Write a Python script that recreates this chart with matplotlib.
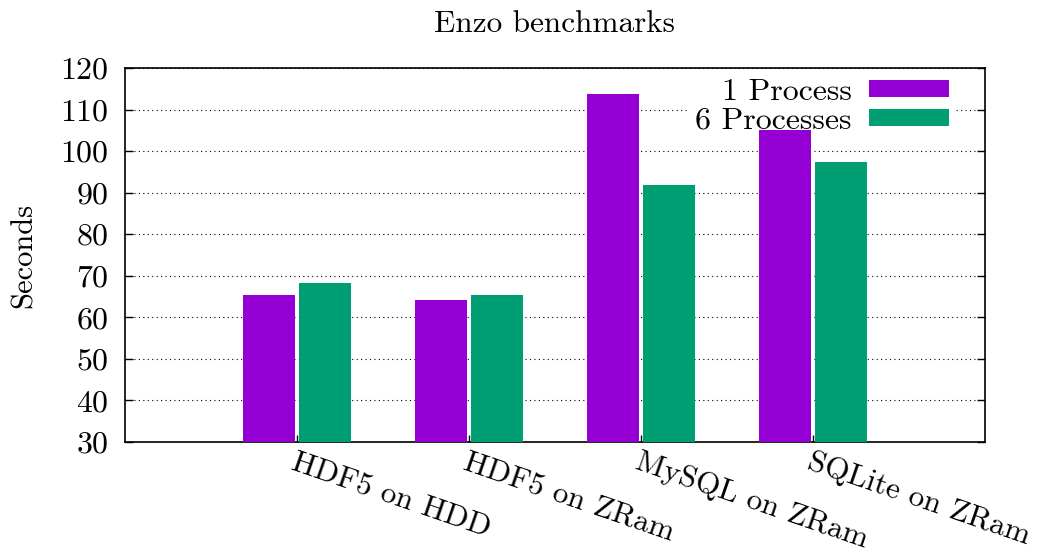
import numpy as np
import matplotlib.pyplot as plt

# data
categories = ["HDF5 on HDD", "HDF5 on ZRam", "MySQL on ZRam", "SQLite on ZRam"]
one_process = [65.4, 64.2, 113.7, 105.1]
six_processes = [68.3, 65.4, 91.8, 97.3]
yticks = [30, 40, 50, 60, 70, 80, 90, 100, 110, 120]

plt.rcParams['font.family'] = ['cmr10', 'DejaVu Serif']
plt.rcParams['axes.formatter.use_mathtext'] = True
plt.rcParams['font.size'] = 23

fig = plt.figure(figsize=(10.39, 5.54), dpi=100)
ax = fig.add_axes([125 / 1039, 1 - 442 / 554, 860 / 1039, 374 / 554])

x = np.arange(1, len(categories) + 1)
w = 0.30
off = 0.163
ax.bar(x - off, one_process, w, color='#9400d3', label='1 Process', zorder=3)
ax.bar(x + off, six_processes, w, color='#009e73', label='6 Processes', zorder=3)

ax.set_xlim(0, 5)
ax.set_ylim(30, 120)
ax.set_yticks(yticks)
ax.set_xticks(x)
ax.set_xticklabels(categories, rotation=-19, ha='left', va='top', rotation_mode='anchor',
                   fontsize=22.5)

ax.tick_params(axis='y', direction='in', length=6, width=1, left=True, right=True, pad=12)
ax.tick_params(axis='x', direction='in', length=5, width=1, top=False, pad=4)
ax.yaxis.grid(True, linestyle=(0, (1, 3)), color='black', linewidth=0.8)
ax.set_axisbelow(True)
for s in ax.spines.values():
    s.set_linewidth(1.2)

ax.set_title("Enzo benchmarks", fontsize=22.5, pad=26)
ax.set_ylabel("Seconds", fontsize=22, labelpad=16)

leg = ax.legend(loc='upper right', bbox_to_anchor=(0.965, 0.99), markerfirst=False,
                frameon=True, edgecolor='none', facecolor='white', framealpha=1,
                fancybox=False, handlelength=2.5, handleheight=0.46,
                handletextpad=0.53, labelspacing=0.05, borderpad=0.2, borderaxespad=0.0)
leg.set_zorder(2.5)

plt.savefig("out.png", dpi=100)
